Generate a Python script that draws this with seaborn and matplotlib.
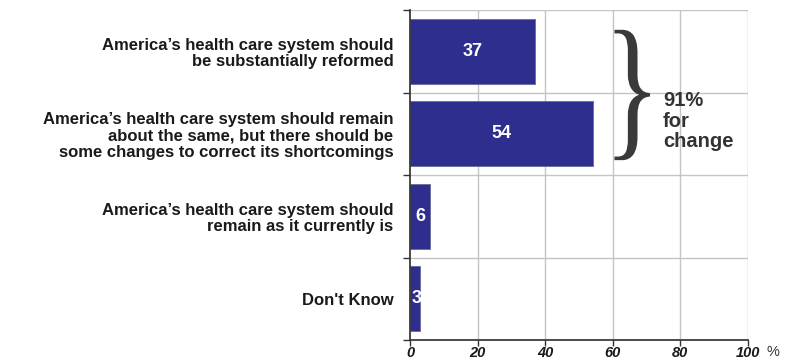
import matplotlib
matplotlib.use("Agg")
import matplotlib.pyplot as plt
import seaborn as sns
import pandas as pd
from matplotlib.textpath import TextPath
from matplotlib.patches import PathPatch
from matplotlib.font_manager import FontProperties
from matplotlib.transforms import Affine2D

categories = [
    "America\u2019s health care system should\nbe substantially reformed",
    "America\u2019s health care system should remain\nabout the same, but there should be\nsome changes to correct its shortcomings",
    "America\u2019s health care system should\nremain as it currently is",
    "Don't Know",
]
values = [37, 54, 6, 3]
x_ticks = [0, 20, 40, 60, 80, 100]
x_tick_labels = ["0", "20", "40", "60", "80", "100"]
annotation = "91%\nfor\nchange"

sns.set_theme(style="white")
plt.rcParams["font.family"] = ["Liberation Sans", "DejaVu Sans"]

df = pd.DataFrame({"cat": categories, "val": values})

fig = plt.figure(figsize=(7.85, 3.62), dpi=100)
ax = fig.add_axes([410 / 785, 1 - 340 / 362, 338 / 785, 330 / 362])

bar_color = "#2E2E8E"
sns.barplot(data=df, x="val", y="cat", orient="h", color=bar_color,
            width=0.79, saturation=1, edgecolor="#6a6a9a", linewidth=0.6, ax=ax)

ax.set_xlim(0, 100)
ax.set_ylim(3.5, -0.5)
ax.set_xlabel("")
ax.set_ylabel("")

# grid
grid_c = "#c4c4c4"
for xv in x_ticks[1:]:
    ax.axvline(xv, color=grid_c, lw=1.0, zorder=0)
for yv in [-0.5, 0.5, 1.5, 2.5]:
    ax.axhline(yv, color=grid_c, lw=1.0, zorder=0)

for side in ["top", "right"]:
    ax.spines[side].set_visible(False)
ax.spines["left"].set_color("#333333")
ax.spines["bottom"].set_color("#333333")

# y ticks: labels at centers, tick marks at boundaries
ax.set_yticks(range(len(categories)))
ax.set_yticklabels(categories, fontsize=12, fontweight="bold", color="#1a1a1a",
                   linespacing=1.12, ha="right")
ax.tick_params(axis="y", which="major", length=0, pad=12)
ax.set_yticks([-0.5, 0.5, 1.5, 2.5, 3.5], minor=True)
ax.tick_params(axis="y", which="minor", length=5, width=1, color="#333333", left=True)

ax.set_xticks(x_ticks)
ax.set_xticklabels(x_tick_labels, fontsize=10.5, fontweight="bold",
                   fontstyle="italic", color="#1a1a1a")
ax.tick_params(axis="x", length=4, width=1, color="#333333", bottom=True, pad=0.5)

ax.annotate("%", xy=(100, 0), xycoords=("data", "axes fraction"),
            xytext=(13, -3.5), textcoords="offset points", fontsize=10.5,
            color="#333333", ha="left", va="top")

# value labels
for i, v in enumerate(values):
    ax.text(v / 2 if v > 4 else v / 2 + 0.4, i, str(v), ha="center", va="center",
            color="white", fontsize=13, fontweight="bold")

# brace: serif "}" glyph stretched to fit its box
tp = TextPath((0, 0), "}", size=1, prop=FontProperties(family="Liberation Serif"))
ext = tp.get_extents()
x0, x1 = 60.5, 71.0
y0, y1 = -0.26, 1.32
tr = (Affine2D().translate(-ext.x0, -ext.y0)
      .scale((x1 - x0) / ext.width, -(y1 - y0) / ext.height)
      .translate(x0, y1))
ax.add_patch(PathPatch(tr.transform_path(tp), facecolor="#3a3a3a",
                       edgecolor="none", zorder=3))
ax.text(74.8, 0.85, annotation, ha="left", va="center", fontsize=14.5,
        fontweight="bold", color="#333333", linespacing=1.1)

fig.savefig("out.png", dpi=100)
